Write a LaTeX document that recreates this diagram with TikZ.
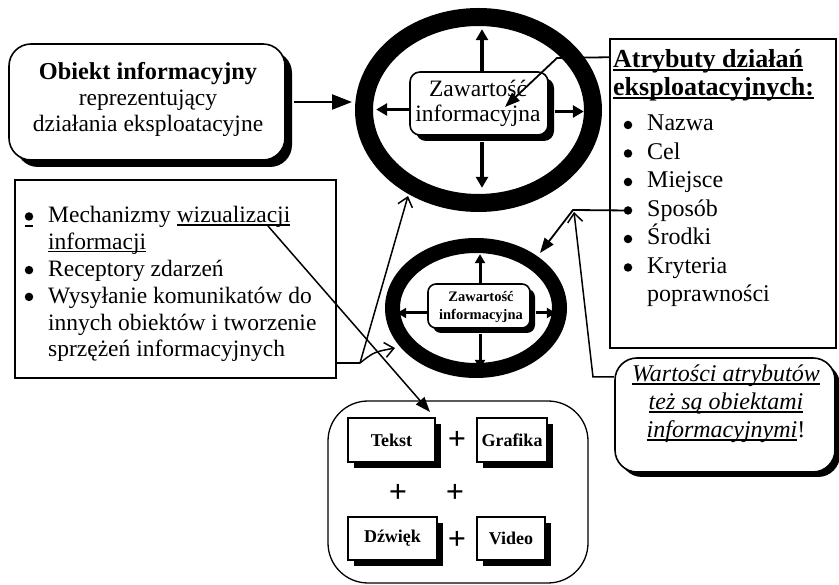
\documentclass[tikz,border=0pt]{standalone}
\usepackage{fontspec}
\setmainfont{Liberation Serif}
\usetikzlibrary{arrows.meta,shadows,shapes.geometric}
\newcommand\myul[2][2.6pt]{\sbox0{#2}\makebox[0pt][l]{\rule[-#1]{\wd0}{1.1pt}}\usebox0}
\begin{document}
\begin{tikzpicture}[x=1pt,y=-1pt,
  shbox/.style={draw, line width=1.6pt, fill=white, inner sep=0pt,
    drop shadow={shadow xshift=#1, shadow yshift=-#1, opacity=1, fill=black}},
  plainbox/.style={draw, line width=1.5pt, fill=white, inner sep=0pt},
  ringshape/.style={ellipse, draw, inner sep=0pt},
  t/.style={inner sep=0pt, anchor=base, font=\fontsize{23.5}{26}\selectfont},
  tw/.style={t, anchor=base west},
  tr/.style={inner sep=0pt, anchor=base west, font=\fontsize{24}{26}\selectfont},
  bdot/.style={circle, fill=black, inner sep=0pt, minimum size=8.5pt},
  smallt/.style={inner sep=0pt, anchor=base, font=\bfseries\fontsize{14.5}{16}\selectfont},
  medt/.style={inner sep=0pt, font=\bfseries\fontsize{18}{20}\selectfont},
  plus/.style={inner sep=0pt, font=\bfseries\fontsize{32}{34}\selectfont},
  bigarrow/.style={line width=2.2pt, -{Triangle[length=20pt,width=15pt]}},
  inarrow/.style={line width=3.5pt, -{Triangle[length=11pt,width=12pt]}},
  smarrow/.style={line width=3pt, -{Triangle[length=9pt,width=10pt]}},
  fillarrow/.style={line width=1.8pt, -{Triangle[length=15pt,width=11pt]}},
  barbarrow/.style={line width=1.5pt, -{Straight Barb[length=9pt,width=15pt,line width=1.5pt]}},
  thinline/.style={line width=1.5pt}
]
\useasboundingbox (0,0) rectangle (839,585);

% ---------- top-left object box
\node[shbox=7pt, rounded corners=22pt, minimum width=276pt, minimum height=116pt] (obj) at (147,102) {};
\node[t, font=\bfseries\fontsize{24.3}{26}\selectfont] (obj1) at (148,80) {Obiekt informacyjny};
\node[t] (obj2) at (148,106) {reprezentujący};
\node[t] (obj3) at (148,132) {działania eksploatacyjne};

% ---------- big ring
\node[ringshape, line width=18pt, outer sep=9pt, minimum width=229pt, minimum height=186pt] (ring1) at (478.5,110) {};
\node[shbox=6pt, rounded corners=10pt, minimum width=138pt, minimum height=63pt] (zin1) at (479,103.5) {};
\node[t] (zin1a) at (478,97) {Zawartość};
\node[t] (zin1b) at (478,122) {informacyjna};
\draw[inarrow] ([xshift=3pt]zin1.north) -- ++(0,-42);
\draw[inarrow] ([xshift=3pt,yshift=-6pt]zin1.south) -- ++(0,46);
\draw[inarrow] ([yshift=-6pt]zin1.west) -- ++(-33,0);
\draw[inarrow] ([xshift=6pt,yshift=-8pt]zin1.east) -- ++(29,0);

% ---------- small ring
\node[ringshape, line width=15pt, outer sep=7.5pt, minimum width=167pt, minimum height=125pt] (ring2) at (476,308) {};
\node[shbox=5pt, rounded corners=8pt, minimum width=102pt, minimum height=44pt] (zin2) at (479,306) {};
\node[smallt] (zin2a) at (481,302) {Zawartość};
\node[smallt] (zin2b) at (481,320) {informacyjna};
\draw[smarrow] ([xshift=1pt]zin2.north) -- ++(0,-29);
\draw[smarrow] ([xshift=1pt,yshift=-5pt]zin2.south) -- ++(0,35);
\draw[smarrow] ([yshift=-7pt]zin2.west) -- ++(-30,0);
\draw[smarrow] ([xshift=5pt,yshift=-7pt]zin2.east) -- ++(20,0);

% ---------- arrow object -> big ring
\draw[bigarrow, shorten >=3pt] ([xshift=8pt]obj.east) -- (ring1.west |- obj.east);

% ---------- right attribute box
\node[plainbox, minimum width=226pt, minimum height=309pt] (rbox) at (723,193.5) {};
\node[tr, font=\bfseries\fontsize{26}{28}\selectfont] (rt1) at (613,68) {\myul{Atrybuty działań}};
\node[tr, font=\bfseries\fontsize{26}{28}\selectfont] (rt2) at (613,96) {\myul{eksploatacyjnych:}};
\node[bdot] (b1) at (628,125) {};
\node[bdot] (b2) at (628,153.5) {};
\node[bdot] (b3) at (628,182) {};
\node[bdot] (b4) at (628,210.5) {};
\node[bdot] (b5) at (628,239) {};
\node[bdot] (b6) at (628,267.5) {};
\node[tr] (r1) at (647,131) {Nazwa};
\node[tr] (r2) at (647,159.5) {Cel};
\node[tr] (r3) at (647,188) {Miejsce};
\node[tr] (r4) at (647,216.5) {Sposób};
\node[tr] (r5) at (647,245) {Środki};
\node[tr] (r6) at (647,273.5) {Kryteria};
\node[tr] (r7) at (647,302) {poprawności};

% diagonal arrow from attribute box into big ring
\coordinate (c1) at (557,58);
\coordinate (t1) at (505,107);
\draw[fillarrow] ([yshift=-19pt]rbox.north west) -- (c1) -- (t1);

% Sposob -> small ring
\coordinate (c2) at (573,210);
\coordinate (t2) at (540,253);
\draw[fillarrow] (b4.center) -- (c2) -- (t2);

% ---------- Wartosci box
\node[shbox=5pt, rounded corners=22pt, minimum width=220pt, minimum height=114pt] (wbox) at (725,415) {};
\node[t, font=\itshape\fontsize{24}{26}\selectfont] (w1t) at (726,382) {\myul{Wartości atrybutów}};
\node[t, font=\itshape\fontsize{24}{26}\selectfont] (w2t) at (726,410) {\myul{też są obiektami}};
\node[t, font=\itshape\fontsize{24}{26}\selectfont] (w3t) at (726,438) {\myul{informacyjnymi}\upshape !};
\coordinate (w1) at (593,377);
\coordinate (t3) at (574,212);
\draw[barbarrow] (wbox.west |- w1) -- (w1) -- (t3);

% ---------- left list box
\node[plainbox, minimum width=321pt, minimum height=198pt] (lbox) at (175.5,279) {};
\node[bdot] (lb1) at (29,216.5) {};
\draw[line width=1.1pt] (25,226) -- (33,226);
\node[tw] (l1) at (48,223) {Mechanizmy \myul{wizualizacji}};
\node[tw] (l2) at (48,249.8) {\myul{informacji}};
\node[bdot] (lb2) at (29,270.1) {};
\node[tw] (l3) at (48,276.6) {Receptory zdarzeń};
\node[bdot] (lb3) at (29,296.9) {};
\node[tw] (l4) at (48,303.4) {Wysyłanie komunikatów do};
\node[tw] (l5) at (48,330.2) {innych obiektów i tworzenie};
\node[tw] (l6) at (48,357) {sprzężeń informacyjnych};

% connectors from the list box
\coordinate (j) at (360,363);
\coordinate (t4) at (408,196);
\coordinate (t5) at (395,348);
\draw[thinline] (lbox.east |- j) -- (j);
\draw[barbarrow] (j) -- (t4);
\draw[barbarrow] (j) .. controls (374,352) .. (t5);

% ---------- bottom media box
\node[draw, line width=1.3pt, rounded corners=40pt, inner sep=0pt, minimum width=260pt, minimum height=182pt] (bbox) at (458,492) {};
\node[shbox=6pt, line width=1.4pt, minimum width=87pt, minimum height=44pt, medt] (tekst) at (391.5,440) {Tekst};
\node[shbox=6pt, line width=1.4pt, minimum width=70pt, minimum height=44pt, medt] (grafika) at (512,440) {Grafika};
\node[shbox=6pt, line width=1.4pt, minimum width=89pt, minimum height=43pt, medt] (dzwiek) at (392.5,538.5) {Dźwięk};
\node[shbox=6pt, line width=1.4pt, minimum width=68pt, minimum height=43pt, medt] (video) at (511,538.5) {Video};
\node[plus] (p1) at (457,440) {+};
\node[plus] (p2) at (398,493) {+};
\node[plus] (p3) at (455,493) {+};
\node[plus] (p4) at (457,540) {+};

% wizualizacji -> Tekst
\coordinate (s6) at (268,226);
\coordinate (t6) at (430,412);
\draw[fillarrow, line width=1.5pt] (s6) -- (t6);
\end{tikzpicture}
\end{document}
